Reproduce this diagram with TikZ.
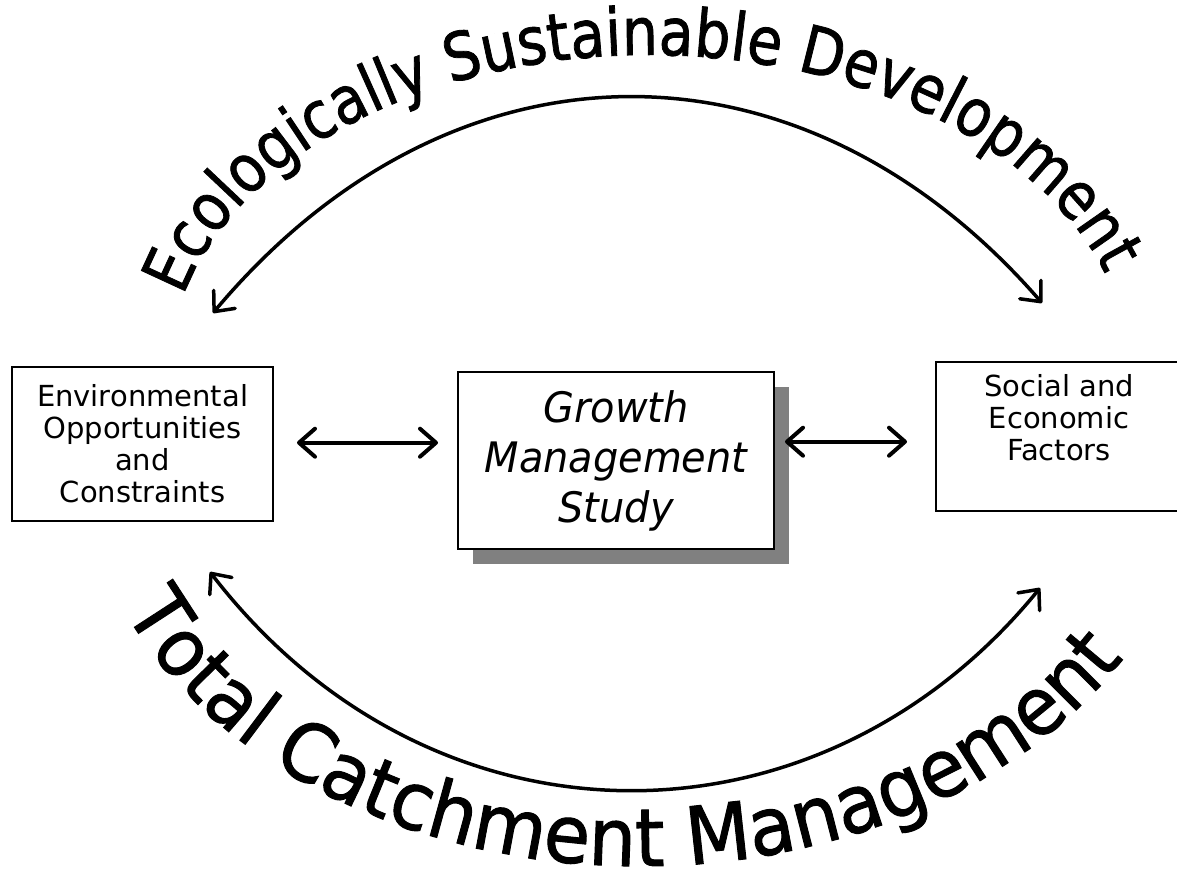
\documentclass[tikz,border=0pt]{standalone}
\usepackage{fontspec}
\setmainfont{DejaVu Sans}
\newfontfamily\topfont[FakeStretch=0.86,FakeBold=1.2]{DejaVu Sans}
\newfontfamily\botfont[FakeStretch=0.94,FakeBold=1.2]{DejaVu Sans}
\newfontfamily\boxfont{DejaVu Sans}
\newfontfamily\midfont[FakeStretch=0.95]{DejaVu Sans}
\usetikzlibrary{arrows.meta,decorations.text,shadows}
\definecolor{shadowgray}{HTML}{808080}
\newcommand\toptxt{\topfont\fontsize{66}{70}\selectfont}
\newcommand\bottxt{\botfont\fontsize{80}{84}\selectfont}
\begin{document}
\begin{tikzpicture}[x=1pt,y=1pt,
  box/.style={draw=black, line width=2pt, fill=white, inner sep=0pt},
  smalltext/.style={font=\boxfont\fontsize{29}{32}\selectfont, align=center},
  midtext/.style={font=\midfont\itshape\fontsize{42}{50}\selectfont, align=center},
  barb/.tip={Straight Barb[length=16pt,width=28pt,line cap=round,line join=round]},
  dblarrow/.style={line width=4pt, barb-barb},
  bigarc/.style={line width=3.5pt, barb-barb}
]
\useasboundingbox (0,0) rectangle (1177,873);
\clip (0,0) rectangle (1177,873);

% boxes
\node[box, smalltext, minimum width=261pt, minimum height=154pt] (env) at (142.5,429) {Environmental\\Opportunities\\and\\Constraints};
\node[box, midtext, minimum width=316pt, minimum height=177pt,
      drop shadow={shadow xshift=15pt, shadow yshift=-15pt, fill=shadowgray, opacity=1}] (gms) at (616,412.5) {Growth\\Management\\Study};
\node[box, minimum width=246pt, minimum height=149pt] (soc) at (1059,436.5) {};
\node[smalltext] (soctxt) at (1059,455.5) {Social and\\Economic\\Factors};

% horizontal double arrows
\coordinate (la) at (297,430.3);
\coordinate (lb) at (438,430.3);
\coordinate (ra) at (785,431.3);
\coordinate (rb) at (907,431.3);
\draw[dblarrow] (la) -- (lb);
\draw[dblarrow] (ra) -- (rb);

% big arcs
\coordinate (ta) at (213,560);
\coordinate (tb) at (1042,570);
\coordinate (ba) at (210,301);
\coordinate (bb) at (1040,285);
\draw[bigarc] (ta) .. controls (453,846) and (802,846) .. (tb);
\draw[bigarc] (ba) .. controls (432,13) and (818,13) .. (bb);

% curved texts
\coordinate (topc) at (649,500);
\coordinate (botc) at (640,426);
\path[decorate, decoration={text along path, text={|\toptxt|Ecologically Sustainable Development}, text align={left indent=0pt}}]
  ([shift={(166:480pt and 318pt)}]topc) arc[start angle=166, end angle=-25, x radius=480pt, y radius=318pt];
\path[decorate, decoration={text along path, text={|\bottxt|Total Catchment Management}, text align={left indent=0pt}}]
  ([shift={(203:560pt and 419pt)}]botc) arc[start angle=203, end angle=365, x radius=560pt, y radius=419pt];
\end{tikzpicture}
\end{document}
